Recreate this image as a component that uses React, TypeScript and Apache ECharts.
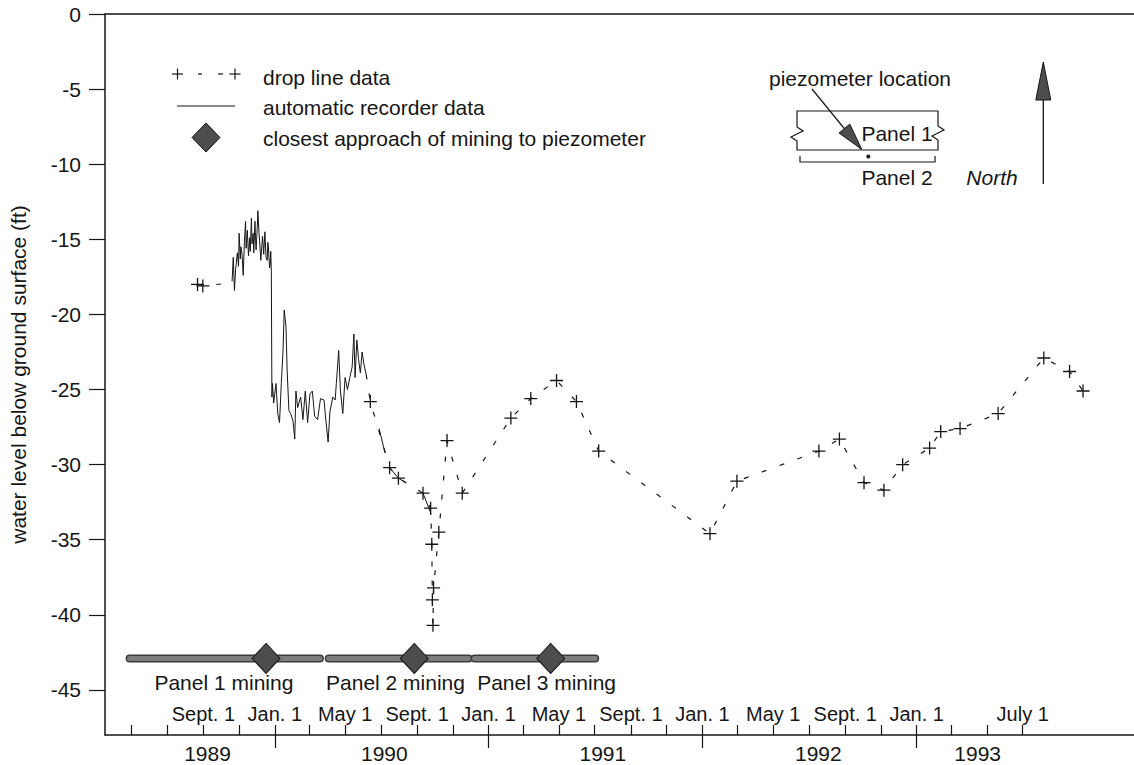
import React, { useEffect, useRef } from "react";
import * as echarts from "echarts";

const FONT = '"Liberation Sans", Arial, Helvetica, sans-serif';
const INK = "#161616";

// ---- drop line measurements (crosses) ----
const dropDates = [
  "1989-08-22", "1989-08-31", "1990-06-13", "1990-07-16", "1990-07-31", "1990-09-11",
  "1990-09-24", "1990-09-26", "1990-09-27", "1990-09-28", "1990-09-29", "1990-10-08",
  "1990-10-22", "1990-11-17", "1991-02-08", "1991-03-14", "1991-04-27", "1991-05-31",
  "1991-07-08", "1992-01-14", "1992-02-29", "1992-07-18", "1992-08-22", "1992-10-03",
  "1992-11-06", "1992-12-08", "1993-01-23", "1993-02-11", "1993-03-16", "1993-05-20",
  "1993-08-06", "1993-09-19", "1993-10-12",
];
const dropLevels = [
  -18.0, -18.1, -25.8, -30.2, -30.9, -31.9,
  -32.9, -35.3, -39.0, -40.7, -38.2, -34.5,
  -28.4, -31.9, -26.9, -25.6, -24.4, -25.8,
  -29.1, -34.6, -31.1, -29.1, -28.3, -31.2,
  -31.7, -30.0, -28.9, -27.8, -27.6, -26.6,
  -22.9, -23.8, -25.1,
];
// dashed link ends where the drop line meets the recorder trace
const dropLinkDates = ["1989-10-20", "1990-06-06"];
const dropLinkLevels = [-17.9, -24.0];

// ---- automatic recorder data (null = gap) ----
const recorderDates = [
  "1989-10-20", "1989-10-22", "1989-10-24", "1989-10-26", "1989-10-29", "1989-10-31",
  "1989-11-01", "1989-11-03", "1989-11-04", "1989-11-06", "1989-11-08", "1989-11-10",
  "1989-11-12", "1989-11-13", "1989-11-15", "1989-11-17", "1989-11-19", "1989-11-20",
  "1989-11-22", "1989-11-23", "1989-11-25", "1989-11-26", "1989-11-28", "1989-11-29",
  "1989-11-30", "1989-12-02", "1989-12-03", "1989-12-05", "1989-12-06", "1989-12-08",
  "1989-12-09", "1989-12-11", "1989-12-13", "1989-12-15", "1989-12-17", "1989-12-19",
  "1989-12-20", "1989-12-21", "1989-12-23", "1989-12-24", "1989-12-25", "1989-12-26",
  "1989-12-27", "1989-12-28", "1989-12-30", "1990-01-03", "1990-01-06", "1990-01-09",
  "1990-01-12", "1990-01-15", "1990-01-17", "1990-01-20", "1990-01-22", "1990-01-25",
  "1990-01-28", "1990-02-01", "1990-02-04", "1990-02-06", "1990-02-09", "1990-02-14",
  "1990-02-18", "1990-02-22", "1990-02-26", "1990-03-02", "1990-03-06", "1990-03-10",
  "1990-03-15", "1990-03-20", "1990-03-26", "1990-03-29", "1990-04-02", "1990-04-05",
  "1990-04-10", "1990-04-14", "1990-04-16", "1990-04-20", "1990-04-23", "1990-04-27",
  "1990-05-01", "1990-05-05", "1990-05-09", "1990-05-13", "1990-05-16", "1990-05-18",
  "1990-05-21", "1990-05-24", "1990-05-27", "1990-05-30", "1990-06-02", "1990-06-06",
  "1990-06-20", "1990-06-28", "1990-07-08", "1990-07-12", "1990-07-16", "1990-07-31",
  "1990-08-13", "1990-08-30", "1990-09-11", "1990-09-25",
];
const recorderLevels = [
  -17.8, -16.2, -18.4, -17.0, -15.9, -16.8,
  -14.6, -16.3, -15.5, -16.0, -17.4, -15.2,
  -13.8, -15.6, -14.4, -16.1, -14.9, -15.8,
  -13.6, -15.3, -14.6, -15.9, -13.8, -14.9,
  -15.7, -14.2, -13.1, -14.6, -15.1, -16.4,
  -15.9, -14.8, -16.0, -14.5, -16.2, -16.4,
  -15.2, -15.5, -16.9, -16.7, -15.8, -17.1,
  -25.5, -24.6, -25.9, -24.6, -26.6, -27.2,
  -24.6, -22.4, -19.7, -20.8, -23.7, -26.4,
  -26.6, -27.1, -28.3, -25.1, -26.2, -25.5,
  -27.0, -25.1, -27.2, -25.3, -25.1, -26.8,
  -27.0, -25.6, -25.7, -27.0, -28.5, -26.5,
  -25.5, -25.7, -24.6, -22.4, -25.1, -26.6,
  -24.2, -25.0, -24.2, -23.5, -21.3, -24.2,
  -21.7, -23.0, -23.9, -22.5, -23.3, -24.0,
  null, -27.6, -29.2, null, -30.2, -30.9,
  -31.2, null, -31.9, -33.3,
];

// ---- mining panels ----
const panelNames = ["Panel 1 mining", "Panel 2 mining", "Panel 3 mining"];
const panelStarts = ["1989-04-28", "1990-04-03", "1990-12-08"];
const panelEnds = ["1990-03-19", "1990-11-28", "1991-07-02"];
const panelLabelDates = ["1989-10-06", "1990-07-26", "1991-04-10"];
const closestApproach = ["1989-12-17", "1990-08-27", "1991-04-17"];
const panelLevel = -42.9;

// ---- axes ----
const tickDates = [
  "1989-05-01", "1989-07-01", "1989-09-01", "1989-11-01", "1990-01-01", "1990-03-01",
  "1990-05-01", "1990-07-01", "1990-09-01", "1990-11-01", "1991-01-01", "1991-03-01",
  "1991-05-01", "1991-07-01", "1991-09-01", "1991-11-01", "1992-01-01", "1992-03-01",
  "1992-05-01", "1992-07-01", "1992-09-01", "1992-11-01", "1993-01-01", "1993-03-01",
  "1993-05-01", "1993-07-01",
];
const monthLabelDates = [
  "1989-09-01", "1990-01-01", "1990-05-01", "1990-09-01", "1991-01-01", "1991-05-01",
  "1991-09-01", "1992-01-01", "1992-05-01", "1992-09-01", "1993-01-01", "1993-07-01",
];
const monthLabels = [
  "Sept. 1", "Jan. 1", "May 1", "Sept. 1", "Jan. 1", "May 1",
  "Sept. 1", "Jan. 1", "May 1", "Sept. 1", "Jan. 1", "July 1",
];
const yearTickDates = ["1990-01-01", "1991-01-01", "1992-01-01", "1993-01-01"];
const yearLabelDates = ["1989-09-08", "1990-07-07", "1991-07-15", "1992-07-17", "1993-04-15"];
const yearLabels = ["1989", "1990", "1991", "1992", "1993"];
const yTicks = [0, -5, -10, -15, -20, -25, -30, -35, -40, -45];
const xMin = "1989-03-17";
const xMax = "1994-01-07";
const yMin = -48;
const yMax = 0;

function ts(s: string): number {
  const [y, m, d] = s.split("-").map(Number);
  return Date.UTC(y, m - 1, d);
}

const CROSS = "path://M5,0L5,10M0,5L10,5";

function buildOption() {
  const monthMap = new Map<number, string>();
  monthLabelDates.forEach((d, i) => monthMap.set(ts(d), monthLabels[i]));
  const yearMap = new Map<number, string>();
  yearLabelDates.forEach((d, i) => yearMap.set(ts(d), yearLabels[i]));

  const pts: [number, number][] = [];
  dropDates.forEach((d, i) => pts.push([ts(d), dropLevels[i]]));
  dropLinkDates.forEach((d, i) => pts.push([ts(d), dropLinkLevels[i]]));
  pts.sort((a, b) => a[0] - b[0]);
  const dropLine: any[] = [];
  const gapStart = ts(dropLinkDates[0]);
  const gapEnd = ts(dropLinkDates[1]);
  pts.forEach((p) => {
    dropLine.push(p);
    if (p[0] === gapStart) dropLine.push([(gapStart + gapEnd) / 2, null]);
  });

  const recorder = recorderDates.map((d, i) => [ts(d), recorderLevels[i]]);
  const crosses = dropDates.map((d, i) => [ts(d), dropLevels[i]]);

  const panelSeries: any[] = [];
  panelNames.forEach((name, i) => {
    const data = [
      [ts(panelStarts[i]), panelLevel],
      [ts(panelEnds[i]), panelLevel],
    ];
    panelSeries.push({
      type: "line",
      name: name + " outline",
      data,
      symbol: "none",
      lineStyle: { color: "#3c3c3c", width: 8, cap: "round" },
      z: 3,
      silent: true,
    });
    panelSeries.push({
      type: "line",
      name,
      data,
      symbol: "none",
      lineStyle: { color: "#7d7d7d", width: 5, cap: "round" },
      z: 3,
      silent: true,
    });
  });

  const labelX = (font: number) => ({
    fontFamily: FONT,
    fontSize: font,
    color: INK,
  });

  const lineEl = (x1: number, y1: number, x2: number, y2: number, w = 1.2) => ({
    type: "line",
    shape: { x1, y1, x2, y2 },
    style: { stroke: INK, lineWidth: w },
    silent: true,
  });
  const textEl = (x: number, y: number, text: string, size = 21, align = "left", italic = false) => ({
    type: "text",
    x,
    y,
    style: {
      text,
      fill: INK,
      font: `${italic ? "italic " : ""}${size}px ${FONT}`,
      align,
      verticalAlign: "middle",
    },
    silent: true,
  });
  const crossEl = (cx: number, cy: number, h: number) => [
    lineEl(cx - h, cy, cx + h, cy),
    lineEl(cx, cy - h, cx, cy + h),
  ];

  const head = (tx: number, ty: number, dx: number, dy: number, len: number, hw: number) => {
    const L = Math.hypot(dx, dy);
    const ux = dx / L, uy = dy / L;
    const bx = tx - ux * len, by = ty - uy * len;
    return {
      type: "polygon",
      shape: { points: [[tx, ty], [bx - uy * hw, by + ux * hw], [bx + uy * hw, by - ux * hw]] },
      style: { fill: "#4d4d4d", stroke: INK, lineWidth: 1 },
      silent: true,
    };
  };

  const graphic: any[] = [
    ...crossEl(177.5, 74, 5.5),
    lineEl(198, 74, 202, 74),
    lineEl(218, 74, 223, 74),
    ...crossEl(235, 74, 5.5),
    textEl(263, 77, "drop line data"),
    lineEl(177, 106, 235, 106, 1),
    textEl(263, 107, "automatic recorder data"),
    {
      type: "polygon",
      shape: { points: [[206, 123], [220, 137.5], [206, 152], [192, 137.5]] },
      style: { fill: "#4d4d4d", stroke: INK, lineWidth: 1 },
      silent: true,
    },
    textEl(263, 138, "closest approach of mining to piezometer"),

    textEl(860, 78, "piezometer location", 21, "center"),
    lineEl(812, 89, 861, 149, 1.2),
    head(861.7, 149.3, 50, 60, 27, 7),
    {
      type: "polyline",
      shape: {
        points: [
          [797, 127], [797, 111], [938, 111], [938, 126], [944, 130], [932, 136], [938, 140],
          [938, 150], [797, 150], [797, 141], [791, 137], [803, 131], [797, 127],
        ],
      },
      style: { stroke: INK, lineWidth: 1.2, fill: "none" },
      silent: true,
    },
    {
      type: "polyline",
      shape: { points: [[800, 156], [800, 162], [935, 162], [935, 156]] },
      style: { stroke: INK, lineWidth: 1.2, fill: "none" },
      silent: true,
    },
    {
      type: "circle",
      shape: { cx: 868.3, cy: 156.5, r: 2 },
      style: { fill: INK },
      silent: true,
    },
    textEl(897, 133, "Panel 1", 21, "center"),
    textEl(897, 177, "Panel 2", 21, "center"),
    lineEl(1043.3, 95, 1043.3, 184, 1.3),
    head(1043.3, 62, 0, -1, 38, 7.5),
    textEl(992, 177, "North", 21, "center", true),
  ];

  const xBase = { type: "value", min: ts(xMin), max: ts(xMax), splitLine: { show: false }, scale: false };

  return {
    animation: false,
    backgroundColor: "#ffffff",
    textStyle: { fontFamily: FONT },
    grid: { left: 101, right: 0, top: 14, bottom: 30, containLabel: false },
    xAxis: [
      {
        ...xBase,
        position: "bottom",
        axisLine: { show: true, onZero: false, lineStyle: { color: INK, width: 1.5 } },
        axisTick: { show: true, inside: true, length: 10, customValues: tickDates.map(ts), lineStyle: { color: INK, width: 1.2 } },
        axisLabel: {
          show: true,
          inside: true,
          margin: 11,
          customValues: monthLabelDates.map(ts),
          formatter: (v: number) => monthMap.get(v) ?? "",
          ...labelX(20),
        },
      },
      {
        ...xBase,
        position: "bottom",
        axisLine: { show: false, onZero: false },
        axisTick: { show: true, inside: false, length: 13, customValues: yearTickDates.map(ts), lineStyle: { color: INK, width: 1.2 } },
        axisLabel: {
          show: true,
          margin: 8,
          customValues: yearLabelDates.map(ts),
          formatter: (v: number) => yearMap.get(v) ?? "",
          ...labelX(21),
        },
      },
      {
        ...xBase,
        position: "top",
        axisLine: { show: true, onZero: false, lineStyle: { color: INK, width: 1.5 } },
        axisTick: { show: false },
        axisLabel: { show: false },
      },
    ],
    yAxis: [
      {
        type: "value",
        min: yMin,
        max: yMax,
        name: "water level below ground surface (ft)",
        nameLocation: "middle",
        nameRotate: 90,
        nameGap: 76,
        nameTextStyle: { fontFamily: FONT, fontSize: 21, color: INK },
        axisLine: { show: true, onZero: false, lineStyle: { color: INK, width: 1.5 } },
        axisTick: { show: true, length: 16, customValues: yTicks, lineStyle: { color: INK, width: 1.2 } },
        axisLabel: { show: true, margin: 24, customValues: yTicks, ...labelX(21) },
        splitLine: { show: false },
      },
    ],
    series: [
      ...panelSeries,
      {
        type: "scatter",
        name: "closest approach of mining to piezometer",
        data: closestApproach.map((d) => [ts(d), panelLevel]),
        symbol: "diamond",
        symbolSize: [28, 30],
        itemStyle: { color: "#4d4d4d", borderColor: INK, borderWidth: 1, opacity: 1 },
        z: 4,
        silent: true,
      },
      {
        type: "scatter",
        name: "panel labels",
        data: panelNames.map((n, i) => ({
          value: [ts(panelLabelDates[i]), panelLevel],
          label: { formatter: n },
        })),
        symbolSize: 1,
        itemStyle: { color: "rgba(0,0,0,0)", opacity: 1 },
        label: {
          show: true,
          position: "bottom",
          distance: 13,
          fontFamily: FONT,
          fontSize: 21,
          color: INK,
          opacity: 1,
          textBorderWidth: 0,
        },
        silent: true,
      },
      {
        type: "line",
        name: "automatic recorder data",
        data: recorder,
        symbol: "none",
        connectNulls: false,
        lineStyle: { color: INK, width: 1 },
        z: 5,
        silent: true,
      },
      {
        type: "line",
        name: "drop line data",
        data: dropLine,
        symbol: "none",
        connectNulls: false,
        lineStyle: { color: INK, width: 1.2, type: [5, 14] },
        z: 5,
        silent: true,
      },
      {
        type: "scatter",
        name: "drop line crosses",
        data: crosses,
        symbol: CROSS,
        symbolSize: 13,
        itemStyle: { color: "rgba(0,0,0,0)", borderColor: INK, borderWidth: 1.3, opacity: 1 },
        z: 6,
        silent: true,
      },
    ],
    graphic,
  };
}

export default function App() {
  const ref = useRef<HTMLDivElement>(null);
  useEffect(() => {
    if (!ref.current) return;
    const chart = echarts.init(ref.current, undefined, { renderer: "svg" });
    chart.setOption(buildOption() as any);
    return () => chart.dispose();
  }, []);
  return (
    <div
      ref={ref}
      style={{ position: "fixed", left: 0, top: 0, width: 1134, height: 765, background: "#fff" }}
    />
  );
}
